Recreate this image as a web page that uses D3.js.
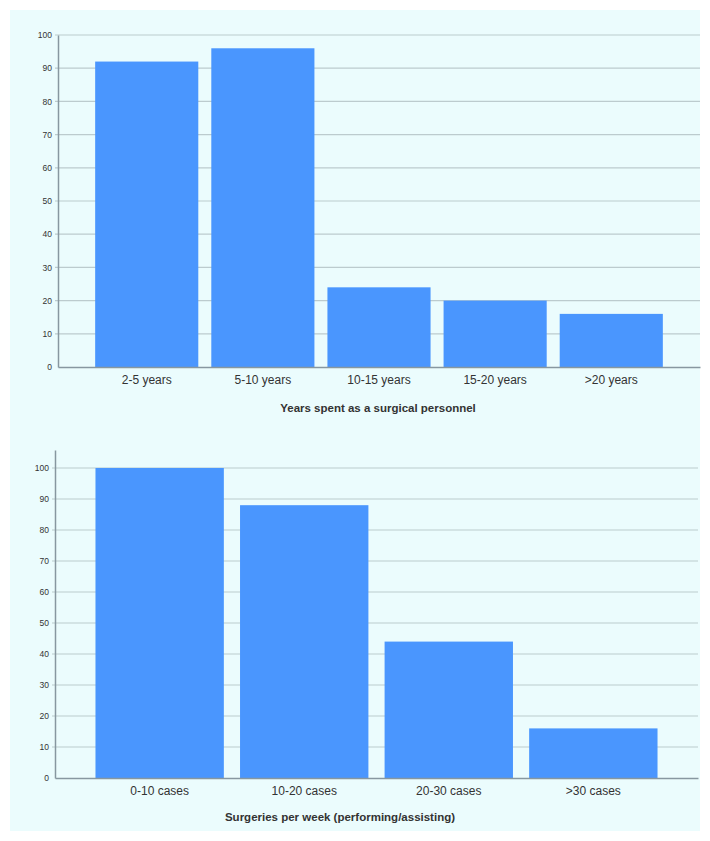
<!DOCTYPE html>
<html>
<head>
<meta charset="utf-8">
<script src="https://cdn.jsdelivr.net/npm/d3@7"></script>
<style>
  body { margin: 0; background: #fff; }
  text { font-family: "Liberation Sans", Arial, sans-serif; fill: #333; }
</style>
</head>
<body>
<div id="chart"></div>
<script>
// top chart data
const yearsCats = ["2-5 years", "5-10 years", "10-15 years", "15-20 years", ">20 years"];
const yearsVals = [92, 96, 24, 20, 16];
// bottom chart data
const surgCats = ["0-10 cases", "10-20 cases", "20-30 cases", ">30 cases"];
const surgVals = [100, 88, 44, 16];
const yTicks = [0, 10, 20, 30, 40, 50, 60, 70, 80, 90, 100];

const width = 710, height = 841;
const svg = d3.select("#chart").append("svg")
    .attr("width", width)
    .attr("height", height);

svg.append("rect")
    .attr("x", 10).attr("y", 10)
    .attr("width", 690).attr("height", 821)
    .attr("fill", "#ebfcfd");

function drawBars(cats, vals, o) {
  const x = d3.scaleBand()
      .domain(cats)
      .range([o.left, o.right])
      .paddingInner(0.112)
      .paddingOuter(o.outer);
  const y = d3.scaleLinear()
      .domain([0, o.ymax])
      .range([o.bottom, o.top]);

  const g = svg.append("g");

  // gridlines
  g.append("g").selectAll("line")
    .data(yTicks.filter(d => d > 0))
    .join("line")
      .attr("x1", o.left - 3).attr("x2", o.right)
      .attr("y1", d => y(d)).attr("y2", d => y(d))
      .attr("stroke", "#bccbce")
      .attr("stroke-width", 1.2);

  g.append("g").selectAll("rect")
    .data(vals)
    .join("rect")
      .attr("x", (d, i) => x(cats[i]))
      .attr("y", d => y(d))
      .attr("width", x.bandwidth())
      .attr("height", d => y(0) - y(d))
      .attr("fill", "#4a96fe");

  const yAxis = g.append("g")
      .attr("transform", `translate(${o.left},0)`)
      .call(d3.axisLeft(y).tickValues(yTicks).tickSize(0).tickSizeOuter(0));
  yAxis.select(".domain").attr("stroke", "#8797a0").attr("stroke-width", 1.5);
  yAxis.selectAll("text").attr("font-size", 8.5).attr("fill", "#333").attr("x", -6);

  const xAxis = g.append("g")
      .attr("transform", `translate(0,${o.bottom})`)
      .call(d3.axisBottom(x).tickSize(0).tickSizeOuter(0).tickPadding(8));
  xAxis.select(".domain").attr("stroke", "#8797a0").attr("stroke-width", 1.5);
  xAxis.selectAll("text").attr("font-size", 12).attr("fill", "#4a4a4a");

  g.append("text")
      .attr("x", o.titleX)
      .attr("y", o.titleY)
      .attr("text-anchor", "middle")
      .attr("font-size", 11.5)
      .attr("font-weight", "bold")
      .attr("fill", "#111")
      .text(o.title);
}

drawBars(yearsCats, yearsVals, {
  left: 58, right: 700, top: 35, bottom: 367, ymax: 100, outer: 0.32,
  title: "Years spent as a surgical personnel", titleX: 378, titleY: 412
});

drawBars(surgCats, surgVals, {
  left: 55, right: 698, top: 450, bottom: 778, ymax: 105.8, outer: 0.28,
  title: "Surgeries per week (performing/assisting)", titleX: 340, titleY: 821
});
</script>
</body>
</html>
